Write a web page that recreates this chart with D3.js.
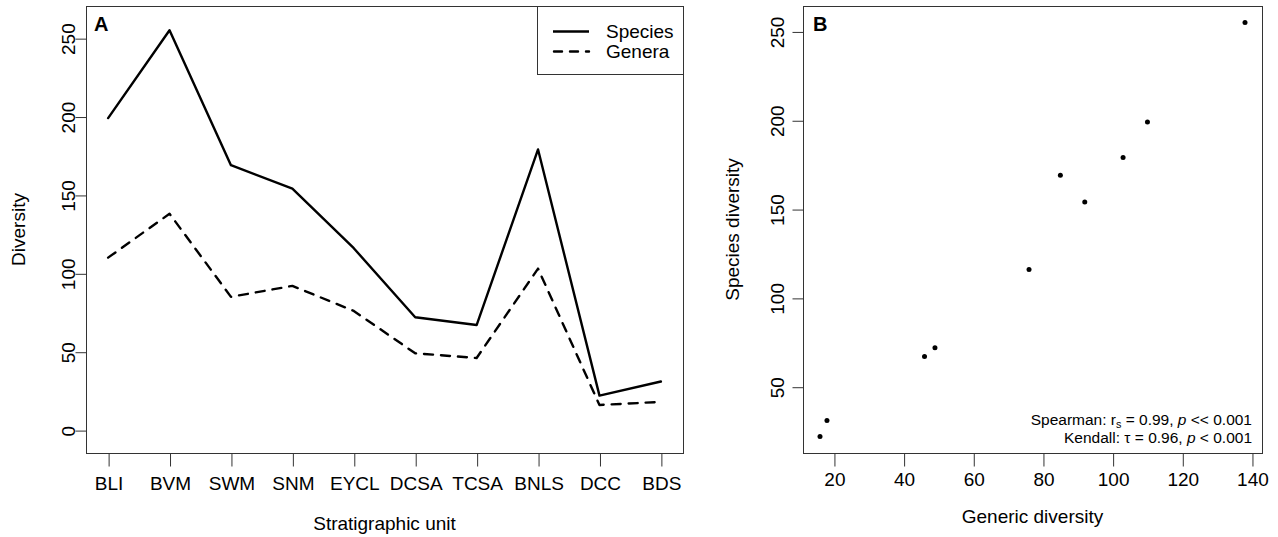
<!DOCTYPE html>
<html>
<head>
<meta charset="utf-8">
<script src="https://cdn.jsdelivr.net/npm/d3@7"></script>
<style>
  html, body { margin: 0; padding: 0; background: #fff; }
  svg text { font-family: "Liberation Sans", Arial, Helvetica, sans-serif; fill: #000; }
</style>
</head>
<body>
<svg id="chart" width="1278" height="537"></svg>
<script>
// ---- data ----
const units = ["BLI", "BVM", "SWM", "SNM", "EYCL", "DCSA", "TCSA", "BNLS", "DCC", "BDS"];
const species = [199, 255, 169, 154, 116, 72, 67, 179, 22, 31];
const genera = [110, 138, 85, 92, 76, 49, 46, 103, 16, 18];
const yTicksA = [0, 50, 100, 150, 200, 250];
const xTicksB = [20, 40, 60, 80, 100, 120, 140];
const yTicksB = [50, 100, 150, 200, 250];
const seriesNames = ["Species", "Genera"];
const statLines = ["Spearman", "Kendall"];

const svg = d3.select("#chart");
const FS = 19;
const boxColor = "#333";
const DASH = "9,8";

function rExt(ext) { const d = (ext[1] - ext[0]) * 0.04; return [ext[0] - d, ext[1] + d]; }

// ================= Panel A =================
const A = { l: 86, r: 683, t: 6, b: 453 };
const xA = d3.scaleLinear().domain([0.64, units.length + 0.36]).range([A.l, A.r]);
const yA = d3.scaleLinear().domain([-14.6, 270.5]).range([A.b, A.t]);
const gA = svg.append("g");

const line = d3.line().x((d, i) => xA(i + 1)).y(d => yA(d));
gA.append("path").datum(species).attr("d", line)
  .attr("fill", "none").attr("stroke", "#000").attr("stroke-width", 2.4)
  .attr("stroke-linejoin", "round").attr("stroke-linecap", "round");
gA.append("path").datum(genera).attr("d", line)
  .attr("fill", "none").attr("stroke", "#000").attr("stroke-width", 2.4)
  .attr("stroke-dasharray", DASH).attr("stroke-linecap", "round").attr("stroke-linejoin", "round");

gA.append("rect").attr("x", A.l + 0.5).attr("y", A.t + 0.5)
  .attr("width", A.r - A.l).attr("height", A.b - A.t)
  .attr("fill", "none").attr("stroke", boxColor).attr("stroke-width", 1);

// x axis A
const xAxisA = d3.axisBottom(xA).tickValues(d3.range(1, units.length + 1))
  .tickFormat(i => units[i - 1]).tickSize(13).tickSizeOuter(0);
const gxA = gA.append("g").attr("transform", `translate(0.5,${A.b + 0.5})`).call(xAxisA);
gxA.select(".domain").remove();
gxA.selectAll(".tick line").attr("stroke", boxColor);
gxA.selectAll(".tick text").attr("y", 0).attr("dy", null)
  .attr("transform", "translate(0,36)").style("font-size", FS + "px");

// y axis A
const yAxisA = d3.axisLeft(yA).tickValues(yTicksA).tickSize(11).tickSizeOuter(0);
const gyA = gA.append("g").attr("transform", `translate(${A.l + 0.5},0.5)`).call(yAxisA);
gyA.select(".domain").remove();
gyA.selectAll(".tick line").attr("stroke", boxColor);
gyA.selectAll(".tick text").attr("x", null).attr("dy", null).attr("y", null)
  .attr("text-anchor", "middle")
  .attr("transform", `translate(${74 - A.l},0) rotate(-90)`).style("font-size", FS + "px");

gA.append("text").attr("transform", `translate(25,${(A.t + A.b) / 2}) rotate(-90)`)
  .attr("text-anchor", "middle").style("font-size", FS + "px").text("Diversity");
gA.append("text").attr("x", (A.l + A.r) / 2).attr("y", 530)
  .attr("text-anchor", "middle").style("font-size", FS + "px").text("Stratigraphic unit");
gA.append("text").attr("x", 94).attr("y", 31).style("font-size", "20px")
  .style("font-weight", "bold").text("A");

// legend
const L = { l: 537, r: A.r, t: A.t, b: 74 };
gA.append("rect").attr("x", L.l + 0.5).attr("y", L.t + 0.5)
  .attr("width", L.r - L.l).attr("height", L.b - L.t)
  .attr("fill", "#fff").attr("stroke", boxColor);
const legY = [31.5, 51.5];
seriesNames.forEach((name, k) => {
  gA.append("line").attr("x1", k === 1 ? 554 : 553).attr("x2", 589).attr("y1", legY[k]).attr("y2", legY[k])
    .attr("stroke", "#000").attr("stroke-width", 2.4)
    .attr("stroke-dasharray", k === 1 ? "8,8" : null).attr("stroke-linecap", k === 1 ? "round" : "butt");
  gA.append("text").attr("x", 606).attr("y", legY[k] + 6.5).style("font-size", FS + "px").text(name);
});

// ================= Panel B =================
const B = { l: 803, r: 1262, t: 6, b: 453 };
const xB = d3.scaleLinear().domain(rExt(d3.extent(genera))).range([B.l, B.r]);
const yB = d3.scaleLinear().domain(rExt(d3.extent(species))).range([B.b, B.t]);
const gB = svg.append("g");

gB.append("rect").attr("x", B.l + 0.5).attr("y", B.t + 0.5)
  .attr("width", B.r - B.l).attr("height", B.b - B.t)
  .attr("fill", "none").attr("stroke", boxColor);

gB.selectAll("circle").data(genera).join("circle")
  .attr("cx", d => xB(d)).attr("cy", (d, i) => yB(species[i])).attr("r", 2.5).attr("fill", "#000");

const xAxisB = d3.axisBottom(xB).tickValues(xTicksB).tickSize(13).tickSizeOuter(0);
const gxB = gB.append("g").attr("transform", `translate(0.5,${B.b + 0.5})`).call(xAxisB);
gxB.select(".domain").remove();
gxB.selectAll(".tick line").attr("stroke", boxColor);
gxB.selectAll(".tick text").attr("y", 0).attr("dy", null)
  .attr("transform", "translate(0,32)").style("font-size", FS + "px");

const yAxisB = d3.axisLeft(yB).tickValues(yTicksB).tickSize(11).tickSizeOuter(0);
const gyB = gB.append("g").attr("transform", `translate(${B.l + 0.5},0.5)`).call(yAxisB);
gyB.select(".domain").remove();
gyB.selectAll(".tick line").attr("stroke", boxColor);
gyB.selectAll(".tick text").attr("x", null).attr("dy", null).attr("y", null)
  .attr("text-anchor", "middle")
  .attr("transform", `translate(${783 - B.l},0) rotate(-90)`).style("font-size", FS + "px");

gB.append("text").attr("transform", `translate(739,${(B.t + B.b) / 2}) rotate(-90)`)
  .attr("text-anchor", "middle").style("font-size", FS + "px").text("Species diversity");
gB.append("text").attr("x", (B.l + B.r) / 2).attr("y", 523)
  .attr("text-anchor", "middle").style("font-size", FS + "px").text("Generic diversity");
gB.append("text").attr("x", 813).attr("y", 31).style("font-size", "20px")
  .style("font-weight", "bold").text("B");

// stats annotation
const SF = 15.5;
const t1 = gB.append("text").attr("x", 1252).attr("y", 425).attr("text-anchor", "end").style("font-size", SF + "px");
t1.append("tspan").text(statLines[0] + ": r");
t1.append("tspan").attr("dy", 3).style("font-size", (SF * 0.7) + "px").text("s");
t1.append("tspan").attr("dy", -3).text(" = 0.99, ");
t1.append("tspan").style("font-style", "italic").text("p");
t1.append("tspan").text(" << 0.001");
const t2 = gB.append("text").attr("x", 1252).attr("y", 443).attr("text-anchor", "end").style("font-size", SF + "px");
t2.append("tspan").text(statLines[1] + ": \u03C4 = 0.96, ");
t2.append("tspan").style("font-style", "italic").text("p");
t2.append("tspan").text(" < 0.001");
</script>
</body>
</html>
